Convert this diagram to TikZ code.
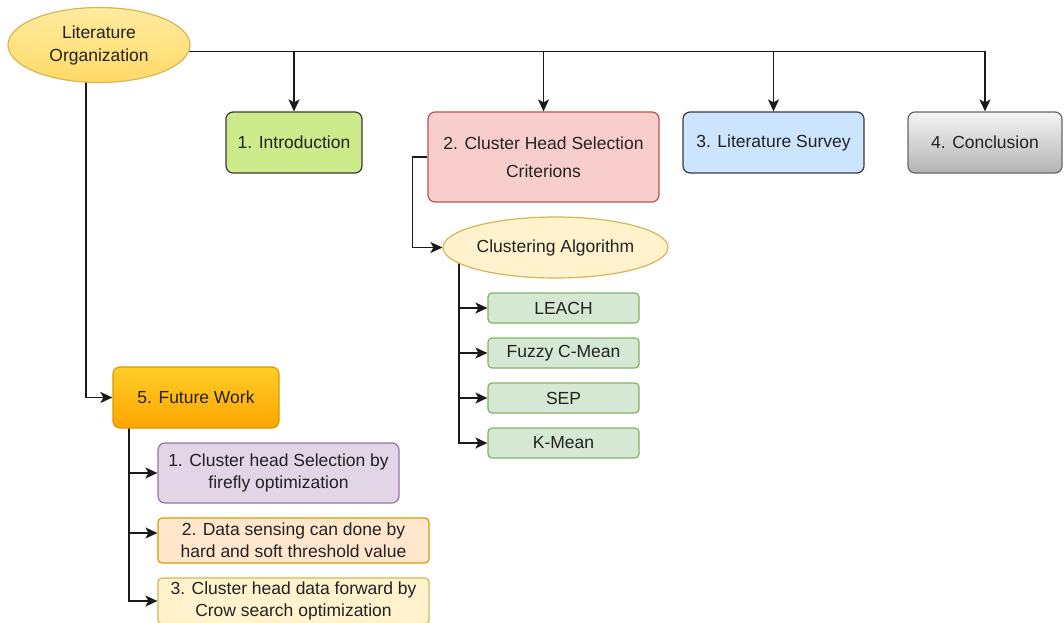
\documentclass[tikz,border=0pt]{standalone}
\usepackage{fontspec}
\setmainfont{Liberation Sans}
\usetikzlibrary{shapes.geometric,arrows.meta,calc,backgrounds}
\definecolor{txt}{HTML}{222222}
\definecolor{ln}{HTML}{1A1A1A}
\definecolor{loTop}{HTML}{FFECA0}
\definecolor{loBot}{HTML}{FFD966}
\definecolor{yStroke}{HTML}{D6B656}
\definecolor{yFill}{HTML}{FFF2CC}
\definecolor{gFill}{HTML}{CDEB8B}
\definecolor{dStroke}{HTML}{36393D}
\definecolor{rFill}{HTML}{F8CECC}
\definecolor{rStroke}{HTML}{B85450}
\definecolor{bFill}{HTML}{CCE5FF}
\definecolor{grTop}{HTML}{F5F5F5}
\definecolor{grBot}{HTML}{B3B3B3}
\definecolor{grStroke}{HTML}{666666}
\definecolor{lgFill}{HTML}{D5E8D4}
\definecolor{lgStroke}{HTML}{82B366}
\definecolor{oTop}{HTML}{FFCD28}
\definecolor{oBot}{HTML}{FFA500}
\definecolor{oStroke}{HTML}{D79B00}
\definecolor{pFill}{HTML}{E1D5E7}
\definecolor{pStroke}{HTML}{9673A6}
\definecolor{peFill}{HTML}{FFE6CC}
\tikzset{
  box/.style={rectangle, rounded corners=7pt, line width=1.2pt, align=center, text=txt,
    font=\fontsize{17.5}{22}\selectfont, inner sep=0pt},
  smallbox/.style={box, rounded corners=4pt},
  oval/.style={ellipse, line width=1.2pt, align=center, text=txt,
    font=\fontsize{17.5}{23}\selectfont, inner sep=0pt},
  arr/.style={draw=ln, line width=1.5pt, -{Stealth[length=12pt,width=11pt,inset=3pt]}},
  conn/.style={draw=ln, line width=1.5pt},
  alg/.style={smallbox, minimum width=151, minimum height=30, fill=lgFill, draw=lgStroke},
}
\begin{document}
\begin{tikzpicture}[x=1pt,y=-1pt]
\useasboundingbox (0,0) rectangle (1064,622);
\clip (0,0) rectangle (1064,622);

% top level
\node[oval, minimum width=182, minimum height=75, draw=yStroke, top color=loTop, bottom color=loBot] (LO) at (99,45) {Literature\\Organization};

\node[box, minimum width=136, minimum height=61, fill=gFill, draw=dStroke] (intro) at (294,142.5) {1. Introduction};
\node[box, minimum width=231, minimum height=90, fill=rFill, draw=rStroke, font=\fontsize{17.5}{28}\selectfont] (CH) at (543.5,157) {2. Cluster Head Selection\\Criterions};
\node[box, minimum width=181, minimum height=61, fill=bFill, draw=dStroke] (LS) at (773.5,142.5) {3. Literature Survey};
\node[box, minimum width=154, minimum height=61, top color=grTop, bottom color=grBot, draw=grStroke] (CO) at (985,142.5) {4. Conclusion};

% clustering
\node[oval, minimum width=225, minimum height=61, fill=yFill, draw=yStroke] (CA) at (555.5,247.5) {Clustering Algorithm};
\node[alg] (leach) at (563.5,308) {LEACH};
\node[alg] (fuzzy) at (563.5,353) {Fuzzy C-Mean};
\node[alg] (sep) at (563.5,398) {SEP};
\node[alg] (kmean) at (563.5,443) {K-Mean};

% future work
\node[box, minimum width=166, minimum height=61, top color=oTop, bottom color=oBot, draw=oStroke] (FW) at (196,397.5) {5. Future Work};
\node[box, minimum width=241, minimum height=60, fill=pFill, draw=pStroke] (F1) at (278.5,473) {1. Cluster head Selection by\\firefly optimization};
\node[smallbox, minimum width=271, minimum height=45, fill=peFill, draw=oStroke] (F2) at (293.5,540.5) {2. Data sensing can done by\\hard and soft threshold value};
\node[smallbox, minimum width=271, minimum height=46, fill=yFill, draw=yStroke] (F3) at (293.5,601) {3. Cluster head data forward by\\Crow search optimization};

\begin{scope}[on background layer]
  \fill[white] (0,0) rectangle (1064,622);
  \coordinate (hub) at (LO.-4.5);
  \draw[conn] (hub) -- (CO.north |- hub);
  \draw[arr] (hub) -| (intro.north);
  \draw[arr] (hub) -| (CH.north);
  \draw[arr] (hub) -| (LS.north);
  \draw[arr] (hub) -| (CO.north);
  \draw[arr] ($(LO.center)+(-13,0)$) |- (FW.west);

  \draw[arr] (CH.west) -- ++(-15,0) |- (CA.west);

  \coordinate (cadown) at ($(CA.center)+(-96.5,0)$);
  \draw[arr] (cadown) |- (leach.west);
  \draw[arr] (cadown) |- (fuzzy.west);
  \draw[arr] (cadown) |- (sep.west);
  \draw[arr] (cadown) |- (kmean.west);

  \coordinate (fwdown) at ($(FW.center)+(-67,0)$);
  \draw[arr] (fwdown) |- (F1.west);
  \draw[arr] (fwdown) |- ($(F2.west)+(0,-7.5)$);
  \draw[arr] (fwdown) |- (F3.west);
\end{scope}
\end{tikzpicture}
\end{document}
